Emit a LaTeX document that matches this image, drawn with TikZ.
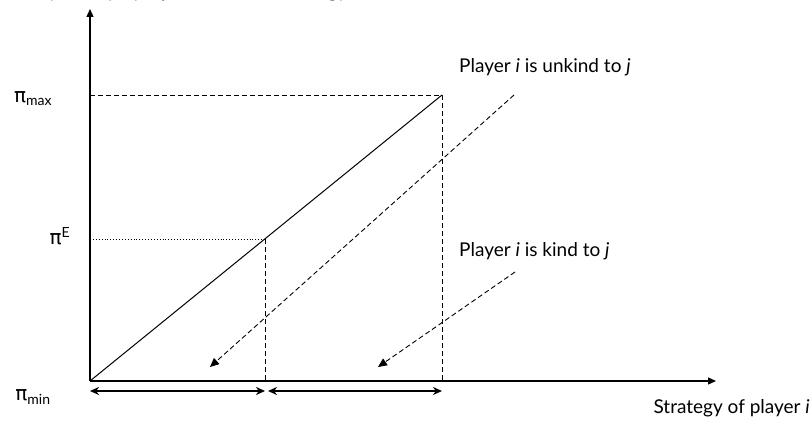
\documentclass[tikz,border=0pt]{standalone}
\usepackage{fontspec}
\setmainfont{Lato}
\newfontfamily\greekfont{DejaVu Sans}
\usetikzlibrary{arrows.meta, positioning, calc}

\begin{document}
\begin{tikzpicture}[
    x=1pt, y=1pt,
    lbl/.style={font=\fontsize{19}{22}\selectfont, inner sep=0pt},
    lvl/.style={font=\fontsize{20}{22}\selectfont, inner sep=0pt},
    axis/.style={line width=1.3pt, -{Triangle[length=8pt, width=7pt]}},
    guide/.style={dash pattern=on 5pt off 3pt, line width=0.9pt},
    pointer/.style={dash pattern=on 5pt off 3pt, line width=0.9pt,
                    -{Triangle[length=9pt, width=8pt]}},
    span/.style={line width=2pt,
                 {Stealth[length=9pt, width=8pt]}-{Stealth[length=9pt, width=8pt]}},
  ]
  \useasboundingbox (0,0) rectangle (812,421);
  % points of the diagram
  \coordinate (o) at (90, 40);
  \coordinate (ytop) at (90, 412);
  \coordinate (xend) at (716, 40);
  \coordinate (peak) at (442, 326);
  \coordinate (eq) at (265, 182);
  \coordinate (ymax) at (90, 326);
  \coordinate (yeq) at (90, 182);
  \coordinate (peakfoot) at (442, 40);
  \coordinate (eqfoot) at (265, 40);
  % axes
  \draw[axis] (o) -- (ytop);
  \draw[axis] (o) -- (xend);
  \node[lbl, anchor=base west] (ylabel) at (28, 423)
      {Payoff of player \textit{j} from \textit{i}'s own strategy};
  \node[lbl, anchor=north east] (xlabel) at (810, 22)
      {Strategy of player \textit{i}};
  % level labels
  \node[lvl] (pmax) at (33, 322) {{\greekfont π}\textsubscript{max}};
  \node[lvl] (peq) at (60, 185) {{\greekfont π}\textsuperscript{E}};
  \node[lvl] (pmin) at (33, 24) {{\greekfont π}\textsubscript{min}};
  % guide lines
  \draw[guide] (ymax) -- (peak) -- (peakfoot);
  \draw[dotted, line width=0.9pt] (yeq) -- (eq);
  \draw[guide] (eq) -- (eqfoot);
  \draw[line width=1pt] (o) -- (peak);
  % ranges below the axis
  \coordinate (s0) at (90, 30);
  \coordinate (s1) at (265, 30);
  \coordinate (s2) at (268, 30);
  \coordinate (s3) at (442, 30);
  \draw[span] (s0) -- (s1);
  \draw[span] (s2) -- (s3);
  % kindness labels
  \node[lbl, anchor=west] (unkind) at (459, 354)
      {Player \textit{i} is unkind to \textit{j}};
  \node[lbl, anchor=west] (kind) at (459, 170)
      {Player \textit{i} is kind to \textit{j}};
  \coordinate (unkindtip) at (210, 54);
  \coordinate (kindtip) at (378, 54);
  \draw[pointer] (514, 326) -- (unkindtip);
  \draw[pointer] (515, 149) -- (kindtip);
\end{tikzpicture}
\end{document}
